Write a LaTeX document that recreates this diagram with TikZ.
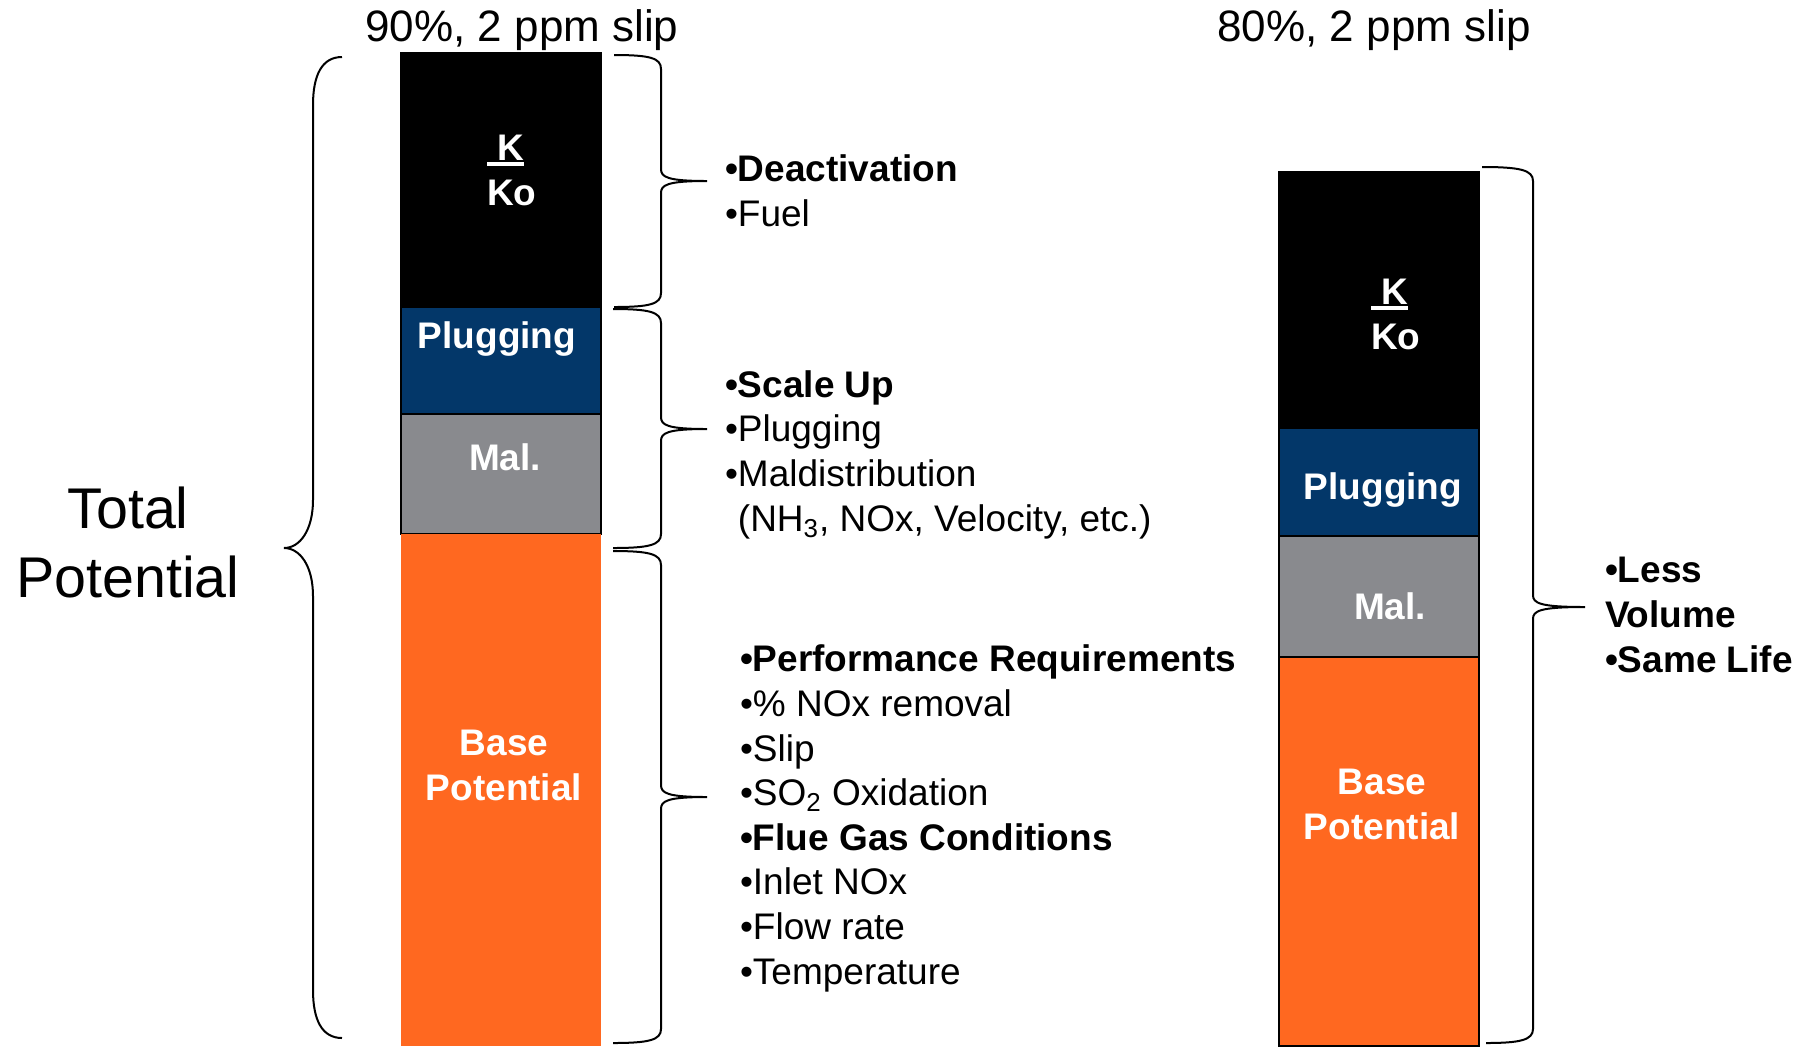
\documentclass[tikz,border=0pt]{standalone}
\usepackage{fontspec}
\setmainfont{Liberation Sans}
\usetikzlibrary{positioning}
\definecolor{baseorange}{RGB}{255,104,32}
\definecolor{plugblue}{RGB}{3,55,105}
\definecolor{malgray}{RGB}{137,138,142}

\begin{document}
\begin{tikzpicture}[x=0.5pt, y=-0.5pt, font=\fontsize{18.5}{22.3}\selectfont]
\tikzset{every node/.style={inner sep=0pt, outer sep=0pt},
         segment/.style={rectangle, draw=black, line width=0.8pt, minimum width=100pt},
         seglabel/.style={text=white, font=\fontsize{18.5}{22.3}\selectfont\bfseries,
                          align=center, anchor=base},
         bullets/.style={align=left, anchor=base west},
         heading/.style={font=\fontsize{22}{26}\selectfont, anchor=base},
         curly/.style={line width=1pt}}
\useasboundingbox (0,0) rectangle (1798,1046);

% 90% column
\node(kL) [segment, fill=black, minimum height=127pt, anchor=north west] at (401,53) {};
\node(plugL) [segment, fill=plugblue, minimum height=53.5pt, below=0pt of kL] {};
\node(malL) [segment, fill=malgray, minimum height=60pt, below=0pt of plugL] {};
\node(baseL) [segment, fill=baseorange, draw=none, minimum height=256pt, below=0pt of malL] {};

% (multi-line nodes sit on the baseline of their last line)
\node(kkoL) [seglabel, align=left, anchor=base west] at (487,205)
  {\rlap{\rule[-3pt]{18.5pt}{2pt}}\ K\\Ko};
\node(plugtxtL) [seglabel] at (497,348) {Plugging};
\node(maltxtL) [seglabel] at (505,470) {Mal.};
\node(basetxtL) [seglabel] at (504,800) {Base\\Potential};

% 80% column
\node(kR) [segment, fill=black, minimum height=128pt, anchor=north west] at (1279,172) {};
\node(plugR) [segment, fill=plugblue, minimum height=54pt, below=0pt of kR] {};
\node(malR) [segment, fill=malgray, minimum height=60.5pt, below=0pt of plugR] {};
\node(baseR) [segment, fill=baseorange, minimum height=194.5pt, below=0pt of malR] {};

\node(kkoR) [seglabel, align=left, anchor=base west] at (1371,349)
  {\rlap{\rule[-3pt]{18.5pt}{2pt}}\ K\\Ko};
\node(plugtxtR) [seglabel] at (1383,499) {Plugging};
\node(maltxtR) [seglabel] at (1390,619) {Mal.};
\node(basetxtR) [seglabel] at (1382,839) {Base\\Potential};

% headings
\node(head90) [heading] at (522,41) {90\%, 2 ppm slip};
\node(head80) [heading] at (1374,41) {80\%, 2 ppm slip};
\node(total) [heading, font=\fontsize{28.7}{34.5}\selectfont, align=center] at (128,597)
  {Total\\Potential};

% braces
\draw[curly] (342,57) .. controls (322,57) and (313,75) .. (313,105) -- (313,500)
  .. controls (313,530) and (300,548) .. (284,548)
  .. controls (300,548) and (313,566) .. (313,596) -- (313,990)
  .. controls (313,1020) and (322,1038) .. (342,1038);

\draw[curly] (614,55) .. controls (650,55) and (661,58) .. (661,69) -- (661,169)
  .. controls (661,177) and (667,181) .. (707,181)
  .. controls (667,181) and (661,185) .. (661,193) -- (661,293)
  .. controls (661,304) and (650,307) .. (614,307);

\draw[curly] (613,309) .. controls (649,309) and (661,312) .. (661,323) -- (661,417)
  .. controls (661,425) and (667,429) .. (707,429)
  .. controls (667,429) and (661,433) .. (661,441) -- (661,534)
  .. controls (661,545) and (649,548) .. (613,548);

\draw[curly] (613,551) .. controls (649,551) and (661,554) .. (661,565) -- (661,785)
  .. controls (661,793) and (667,797) .. (707,797)
  .. controls (667,797) and (661,801) .. (661,809) -- (661,1029)
  .. controls (661,1040) and (649,1043) .. (613,1043);

\draw[curly] (1482,167) .. controls (1520,167) and (1533,170) .. (1533,181) -- (1533,595)
  .. controls (1533,603) and (1539,607) .. (1585,607)
  .. controls (1539,607) and (1533,611) .. (1533,619) -- (1533,1029)
  .. controls (1533,1040) and (1520,1043) .. (1486,1043);

% bullet lists
\node(deact) [bullets] at (725,226) {\textbf{•Deactivation}\\•Fuel};
\node(scaleup) [bullets] at (725,531)
  {\textbf{•Scale Up}\\•Plugging\\•Maldistribution\\\hphantom{•}(NH\textsubscript{3}, NOx, Velocity, etc.)};
\node(perf) [bullets] at (740,984)
  {\textbf{•Performance Requirements}\\•\% NOx removal\\•Slip\\•SO\textsubscript{2} Oxidation\\
   \textbf{•Flue Gas Conditions}\\•Inlet NOx\\•Flow rate\\•Temperature};
\node(less) [bullets, font=\fontsize{18.5}{22.3}\selectfont\bfseries] at (1605,672)
  {•Less\\Volume\\•Same Life};

\end{tikzpicture}
\end{document}
